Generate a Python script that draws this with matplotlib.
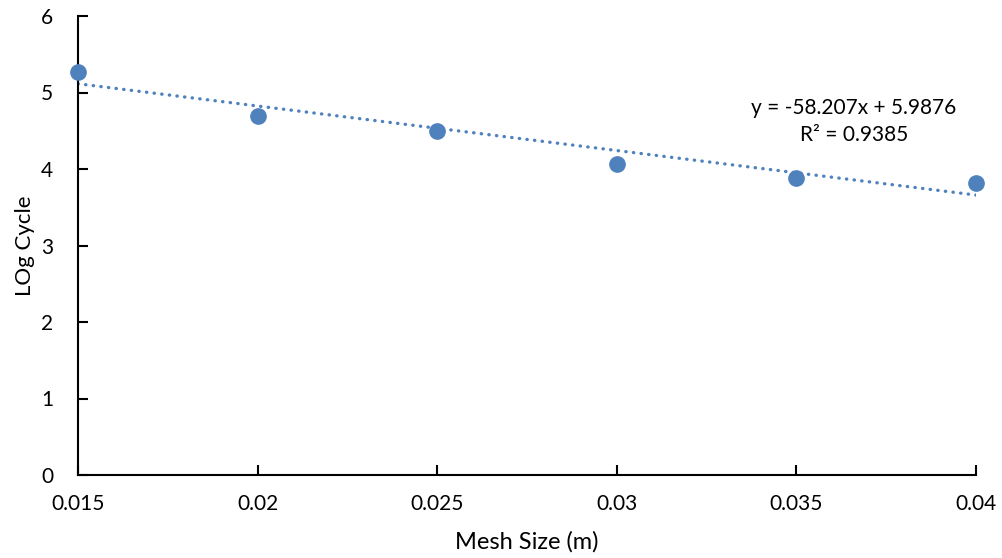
import numpy as np
import matplotlib
matplotlib.use('Agg')
import matplotlib.pyplot as plt

plt.rcParams['font.family'] = ['Lato', 'DejaVu Sans']

# Data
mesh_size = [0.015, 0.02, 0.025, 0.03, 0.035, 0.04]
log_cycle = [5.27, 4.69, 4.50, 4.07, 3.88, 3.82]

# Linear trendline as printed on the chart
slope = -58.207
intercept = 5.9876
r2 = 0.9385

color = '#4F81BD'

fig = plt.figure(figsize=(10.02, 5.58), dpi=100)
ax = fig.add_axes([78 / 1002, 83 / 558, 898 / 1002, 459 / 558])

xs = np.array([mesh_size[0], mesh_size[-1]])
ax.plot(xs, slope * xs + intercept, color=color, lw=2.4, linestyle=(0, (0.1, 2.2)),
        dash_capstyle='round', zorder=2)
ax.plot(mesh_size, log_cycle, 'o', color=color, markersize=11, zorder=3, clip_on=False)

ax.text(0.0366, 4.80, f'y = {slope}x + {intercept}', ha='center', va='center', fontsize=15)
ax.text(0.0366, 4.44, f'R² = {r2}', ha='center', va='center', fontsize=15)

ax.set_xlim(0.015, 0.04)
ax.set_ylim(0, 6)
ax.set_xticks([0.015, 0.02, 0.025, 0.03, 0.035, 0.04])
ax.set_xticklabels(['0.015', '0.02', '0.025', '0.03', '0.035', '0.04'])
ax.set_yticks(range(0, 7))

for s in ['top', 'right']:
    ax.spines[s].set_visible(False)
for s in ['left', 'bottom']:
    ax.spines[s].set_linewidth(1.5)
    ax.spines[s].set_color('black')

ax.tick_params(direction='in', length=7, width=1.5, labelsize=15, pad=14)
ax.tick_params(axis='y', pad=18)

ax.set_xlabel('Mesh Size (m)', fontsize=17, labelpad=12)
ax.set_ylabel('LOg Cycle', fontsize=16, labelpad=4)

fig.savefig('out.png', dpi=100)
